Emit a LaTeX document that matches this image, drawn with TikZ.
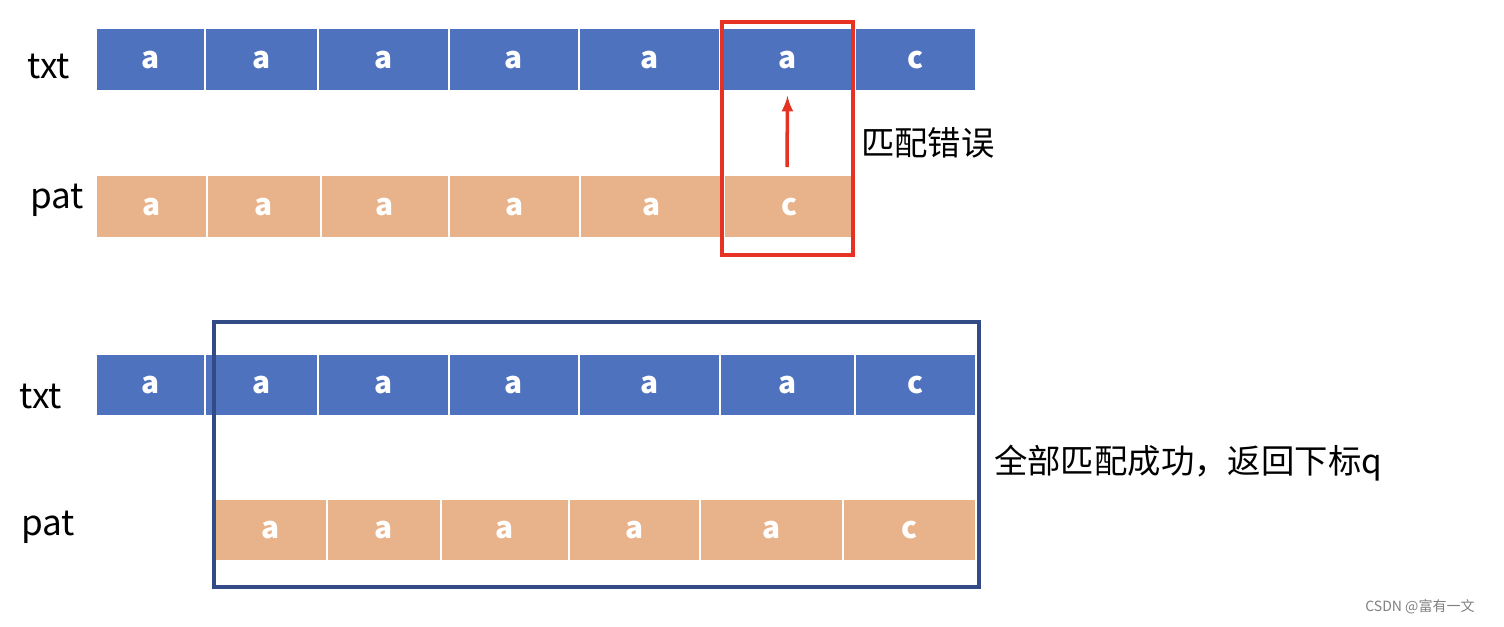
\documentclass[tikz,border=0pt]{standalone}
\usepackage{fontspec}
\setmainfont{Noto Sans CJK SC}
\usetikzlibrary{arrows,positioning}
\definecolor{txtblue}{RGB}{79,114,190}
\definecolor{patorange}{RGB}{232,178,138}
\definecolor{boxred}{RGB}{230,50,35}
\definecolor{boxblue}{RGB}{50,75,135}
\begin{document}
\begin{tikzpicture}
		[x=0.02cm,y=-0.02cm,
		txt cell/.style={shape=rectangle,draw=white,line width=1pt,fill=txtblue,text=white,inner sep=0pt,font=\fontsize{17}{17}\selectfont\bfseries},
		pat cell/.style={txt cell,fill=patorange},
		row label/.style={font=\fontsize{20}{20}\selectfont},
		note/.style={font=\fontsize{19}{19}\selectfont,anchor=west}]
		\useasboundingbox (0,0) rectangle (1504,626);
		
		% first attempt
		\foreach \a/\b/\c [count=\i] in {96/205/a,205/318/a,318/449/a,449/579/a,579/720/a,720/855/a,855/976/c}
		\node [txt cell,minimum width=(\b-\a)*0.02cm,minimum height=1.26cm] (t\i) at ({(\a+\b)/2},59.5) {\c};
		\foreach \a/\b/\c [count=\i] in {96/207/a,207/321/a,321/449/a,449/580/a,580/724/a,724/855/c}
		\node [pat cell,minimum width=(\b-\a)*0.02cm,minimum height=1.26cm] (p\i) at ({(\a+\b)/2},206.5) {\c};
		\node [row label] (l1) at (49,66) {txt};
		\node [row label] (l2) at (57,200) {pat};
		
		\node [draw=boxred,line width=2pt,minimum width=2.62cm,minimum height=4.66cm] (miss) at (787.5,138.5) {};
		\coordinate (err) at (787,167);
		\draw [-latex,boxred,line width=2pt] (err) -- ([yshift=-0.08cm]t6.south);
		\node [note] (n1) at (855,143) {匹配错误};
		
		% second attempt
		\foreach \a/\b/\c [count=\i] in {96/205/a,205/318/a,318/449/a,449/579/a,579/720/a,720/855/a,855/976/c}
		\node [txt cell,minimum width=(\b-\a)*0.02cm,minimum height=1.24cm] (u\i) at ({(\a+\b)/2},385) {\c};
		\foreach \a/\b/\c [count=\i] in {215/327/a,327/441/a,441/569/a,569/700/a,700/843/a,843/976/c}
		\node [pat cell,minimum width=(\b-\a)*0.02cm,minimum height=1.24cm] (q\i) at ({(\a+\b)/2},530) {\c};
		\node [row label] (l3) at (41,396) {txt};
		\node [row label] (l4) at (48,527) {pat};
		
		\node [draw=boxblue,line width=2pt,minimum width=15.3cm,minimum height=5.3cm] (hit) at (596.5,454.5) {};
		\node [note] (n2) at (988,463) {全部匹配成功，返回下标q};
		
		\node [font=\fontsize{8}{8}\selectfont,text=gray] (mark) at (1420,607) {CSDN @富有一文};
		\end{tikzpicture}
\end{document}
